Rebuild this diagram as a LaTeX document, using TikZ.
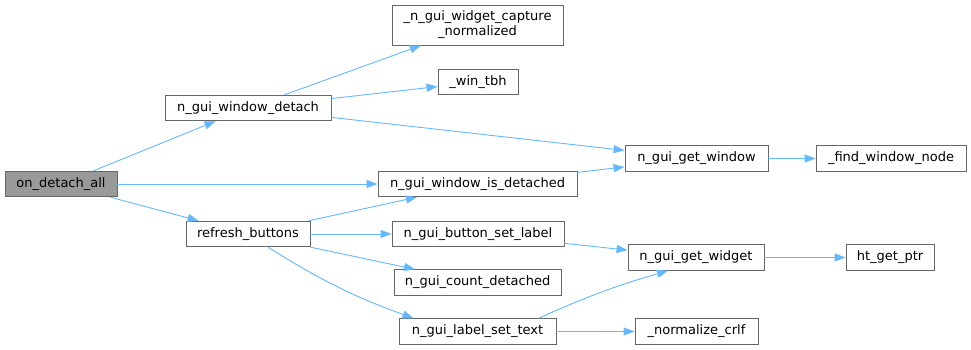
\documentclass[tikz,border=0pt]{standalone}
\usepackage{fontspec}
\setmainfont{DejaVu Sans}
\usetikzlibrary{arrows.meta,calc}
\definecolor{edgec}{HTML}{63B8FF}
\definecolor{bordc}{HTML}{666666}
\definecolor{hlc}{HTML}{999999}
\tikzset{
  box/.style={draw=bordc, fill=white, line width=0.9pt, inner sep=0pt, minimum height=25.5pt,
    text=black, font=\fontsize{13}{15}\selectfont, align=center},
  hlbox/.style={box, fill=hlc},
  conn/.style={draw=edgec, line width=0.9pt, -{Triangle[length=11pt,width=8pt]}}
}
\begin{document}
\begin{tikzpicture}[x=1pt,y=-1pt]
\useasboundingbox (0,0) rectangle (971,350);
\node[hlbox, minimum width=112pt] (on) at (61,184) {on\_detach\_all};
\node[box, minimum width=166pt] (wd) at (248,108) {n\_gui\_window\_detach};
\node[box, minimum width=171pt, minimum height=40pt] (cap) at (477.5,25) {\_n\_gui\_widget\_capture\\\_normalized};
\node[box, minimum width=80pt] (tbh) at (478,82) {\_win\_tbh};
\node[box, minimum width=143pt] (gw) at (696.5,158.5) {n\_gui\_get\_window};
\node[box, minimum width=150pt] (fwn) at (891,158.5) {\_find\_window\_node};
\node[box, minimum width=199pt] (isd) at (477.5,184) {n\_gui\_window\_is\_detached};
\node[box, minimum width=124pt] (rb) at (248,234) {refresh\_buttons};
\node[box, minimum width=172pt] (bsl) at (478,234) {n\_gui\_button\_set\_label};
\node[box, minimum width=167pt] (cd) at (477.5,282.5) {n\_gui\_count\_detached};
\node[box, minimum width=157pt] (lst) at (477.5,331.5) {n\_gui\_label\_set\_text};
\node[box, minimum width=136pt] (gwid) at (696,257.5) {n\_gui\_get\_widget};
\node[box, minimum width=88pt] (ht) at (890,257.5) {ht\_get\_ptr};
\node[box, minimum width=123pt] (nc) at (696.5,331.5) {\_normalize\_crlf};

\draw[conn] (on) -- (wd);
\draw[conn] (on.east) -- (isd.west);
\draw[conn] (on) -- (rb);
\draw[conn] (wd) -- (cap);
\draw[conn] (wd) -- (tbh);
\draw[conn] (wd) -- (gw);
\draw[conn] (isd) -- (gw);
\draw[conn] (gw) -- (fwn);
\draw[conn] (rb) -- (isd);
\draw[conn] (rb.east) -- (bsl.west);
\draw[conn] (rb) -- (cd);
\draw[conn] ($(rb.south)+(20,0)$) to[bend right=6] ($(lst.north)+(-64,0)$);
\draw[conn] (bsl) -- (gwid);
\draw[conn] ($(lst.north)+(61,0)$) to[bend left=4] ($(gwid.south)+(-28,0)$);
\draw[conn] (lst.east) -- (nc.west);
\draw[conn] (gwid.east) -- (ht.west);
\end{tikzpicture}
\end{document}
